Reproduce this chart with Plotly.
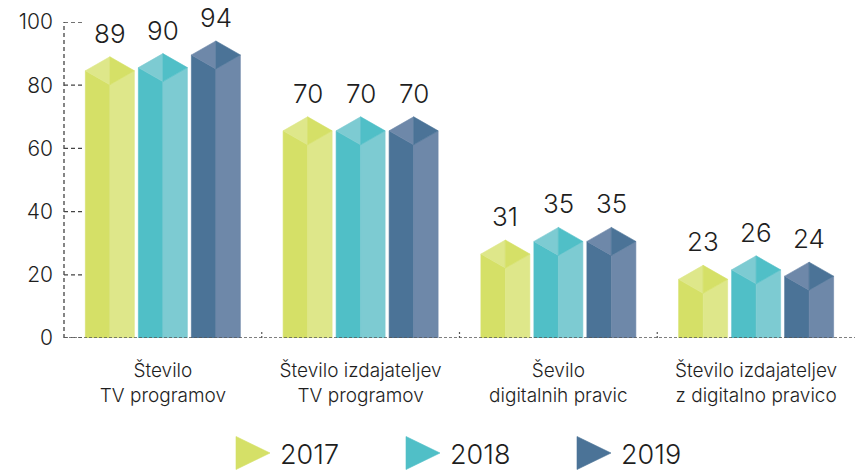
import plotly.graph_objects as go

categories = ["Število<br>TV programov", "Število izdajateljev<br>TV programov",
              "Ševilo<br>digitalnih pravic", "Število izdajateljev<br>z digitalno pravico"]
series_names = ["2017", "2018", "2019"]
values_2017 = [89, 70, 31, 23]
values_2018 = [90, 70, 35, 26]
values_2019 = [94, 70, 35, 24]
y_ticks = [0, 20, 40, 60, 80, 100]

series_values = [values_2017, values_2018, values_2019]
dark_colors = ["#d5e067", "#50bfc7", "#4b7397"]
light_colors = ["#dee78a", "#7dcbd2", "#6e88a9"]

FONT = "Inter"
FW = 300
TXT = "#1e1e1e"

W, H = 855, 473
ML, MT = 64, 22
plot_w = W - ML
paper_h = H - MT
axis_px = 316.0           # pixels for 0..100
y_bottom_px = 135          # from bottom of figure to y=0
y_dom0 = y_bottom_px / paper_h
px_per_unit = axis_px / 100.0

cat_px = plot_w / 4.0
bar_w = 49 / cat_px
bar_step = 53 / cat_px
d = 14 / px_per_unit      # depth of pyramid top in data units

fig = go.Figure()


def poly(xs, ys, color, xa="x", ya="y"):
    fig.add_trace(go.Scatter(x=xs + [xs[0]], y=ys + [ys[0]], mode="lines", fill="toself",
                             fillcolor=color, line=dict(color=color, width=0.6),
                             hoverinfo="skip", showlegend=False, xaxis=xa, yaxis=ya))


annotations = []
for j, vals in enumerate(series_values):
    for i, v in enumerate(vals):
        xc = i + (j - 1) * bar_step
        x0, x1 = xc - bar_w / 2, xc + bar_w / 2
        poly([x0, x0, xc, xc], [0, v - d, v - 2 * d, 0], dark_colors[j])
        poly([xc, xc, x1, x1], [0, v - 2 * d, v - d, 0], light_colors[j])
        poly([x0, xc, xc], [v - d, v, v - 2 * d], light_colors[j])
        poly([xc, x1, xc], [v, v - d, v - 2 * d], dark_colors[j])
        annotations.append(dict(x=xc, y=v, xref="x", yref="y", text=str(v), showarrow=False,
                                yanchor="bottom", yshift=6,
                                font=dict(family=FONT, size=26, color=TXT, weight=FW)))

shapes = []
axis_color = "#444"
shapes.append(dict(type="line", xref="paper", yref="y", x0=0, x1=0, y0=0, y1=100,
                   line=dict(color=axis_color, width=1.3, dash="4px,3px")))
for t in y_ticks:
    shapes.append(dict(type="line", xref="paper", yref="y", x0=0, x1=21 / plot_w, y0=t, y1=t,
                       line=dict(color=axis_color, width=1.3, dash="4px,3px")))
shapes.append(dict(type="line", xref="paper", yref="y", x0=0, x1=1, y0=0, y1=0,
                   line=dict(color="#555", width=1.5, dash="3px,2px")))
for k in range(len(categories) - 1):
    shapes.append(dict(type="line", xref="x", yref="y", x0=k + 0.5, x1=k + 0.5, y0=0,
                       y1=8 / px_per_unit,
                       line=dict(color="#555", width=1.2, dash="2px,2px")))

leg_cx = [189, 359, 530]
leg_cy = 20
tri_w, tri_h = 34, 33
for j, name in enumerate(series_names):
    cx = leg_cx[j]
    poly([cx - tri_w / 2, cx + tri_w / 2, cx - tri_w / 2],
         [leg_cy + tri_h / 2, leg_cy, leg_cy - tri_h / 2], dark_colors[j], xa="x2", ya="y2")
    annotations.append(dict(x=cx + tri_w / 2 + 8, y=leg_cy - 1, xref="x2", yref="y2", text=name,
                            showarrow=False, xanchor="left", yanchor="middle",
                            font=dict(family=FONT, size=27, color=TXT, weight=FW)))

fig.update_layout(
    width=W, height=H,
    margin=dict(l=ML, r=0, t=MT, b=0, autoexpand=False),
    paper_bgcolor="white", plot_bgcolor="white",
    showlegend=False,
    xaxis=dict(range=[-0.5, 3.5], tickvals=list(range(len(categories))), ticktext=categories,
               showgrid=False, zeroline=False, showline=False, ticks="",
               tickfont=dict(family=FONT, size=19, color=TXT, weight=FW), ticklabelstandoff=19,
               anchor="y", fixedrange=True, automargin=False),
    yaxis=dict(range=[0, 100], domain=[y_dom0, 1], tickvals=y_ticks,
               showgrid=False, zeroline=False, showline=False, ticks="",
               tickfont=dict(family=FONT, size=21, color=TXT, weight=FW), ticklabelstandoff=10,
               anchor="x", fixedrange=True, automargin=False),
    xaxis2=dict(range=[0, plot_w], domain=[0, 1], anchor="y2", visible=False),
    yaxis2=dict(range=[0, y_bottom_px], domain=[0, y_dom0], anchor="x2", visible=False),
    shapes=shapes,
    annotations=annotations,
)

fig.write_html("out.html", config={"displayModeBar": False},
               post_script="document.body.style.margin='0';document.body.style.overflow='hidden';")
